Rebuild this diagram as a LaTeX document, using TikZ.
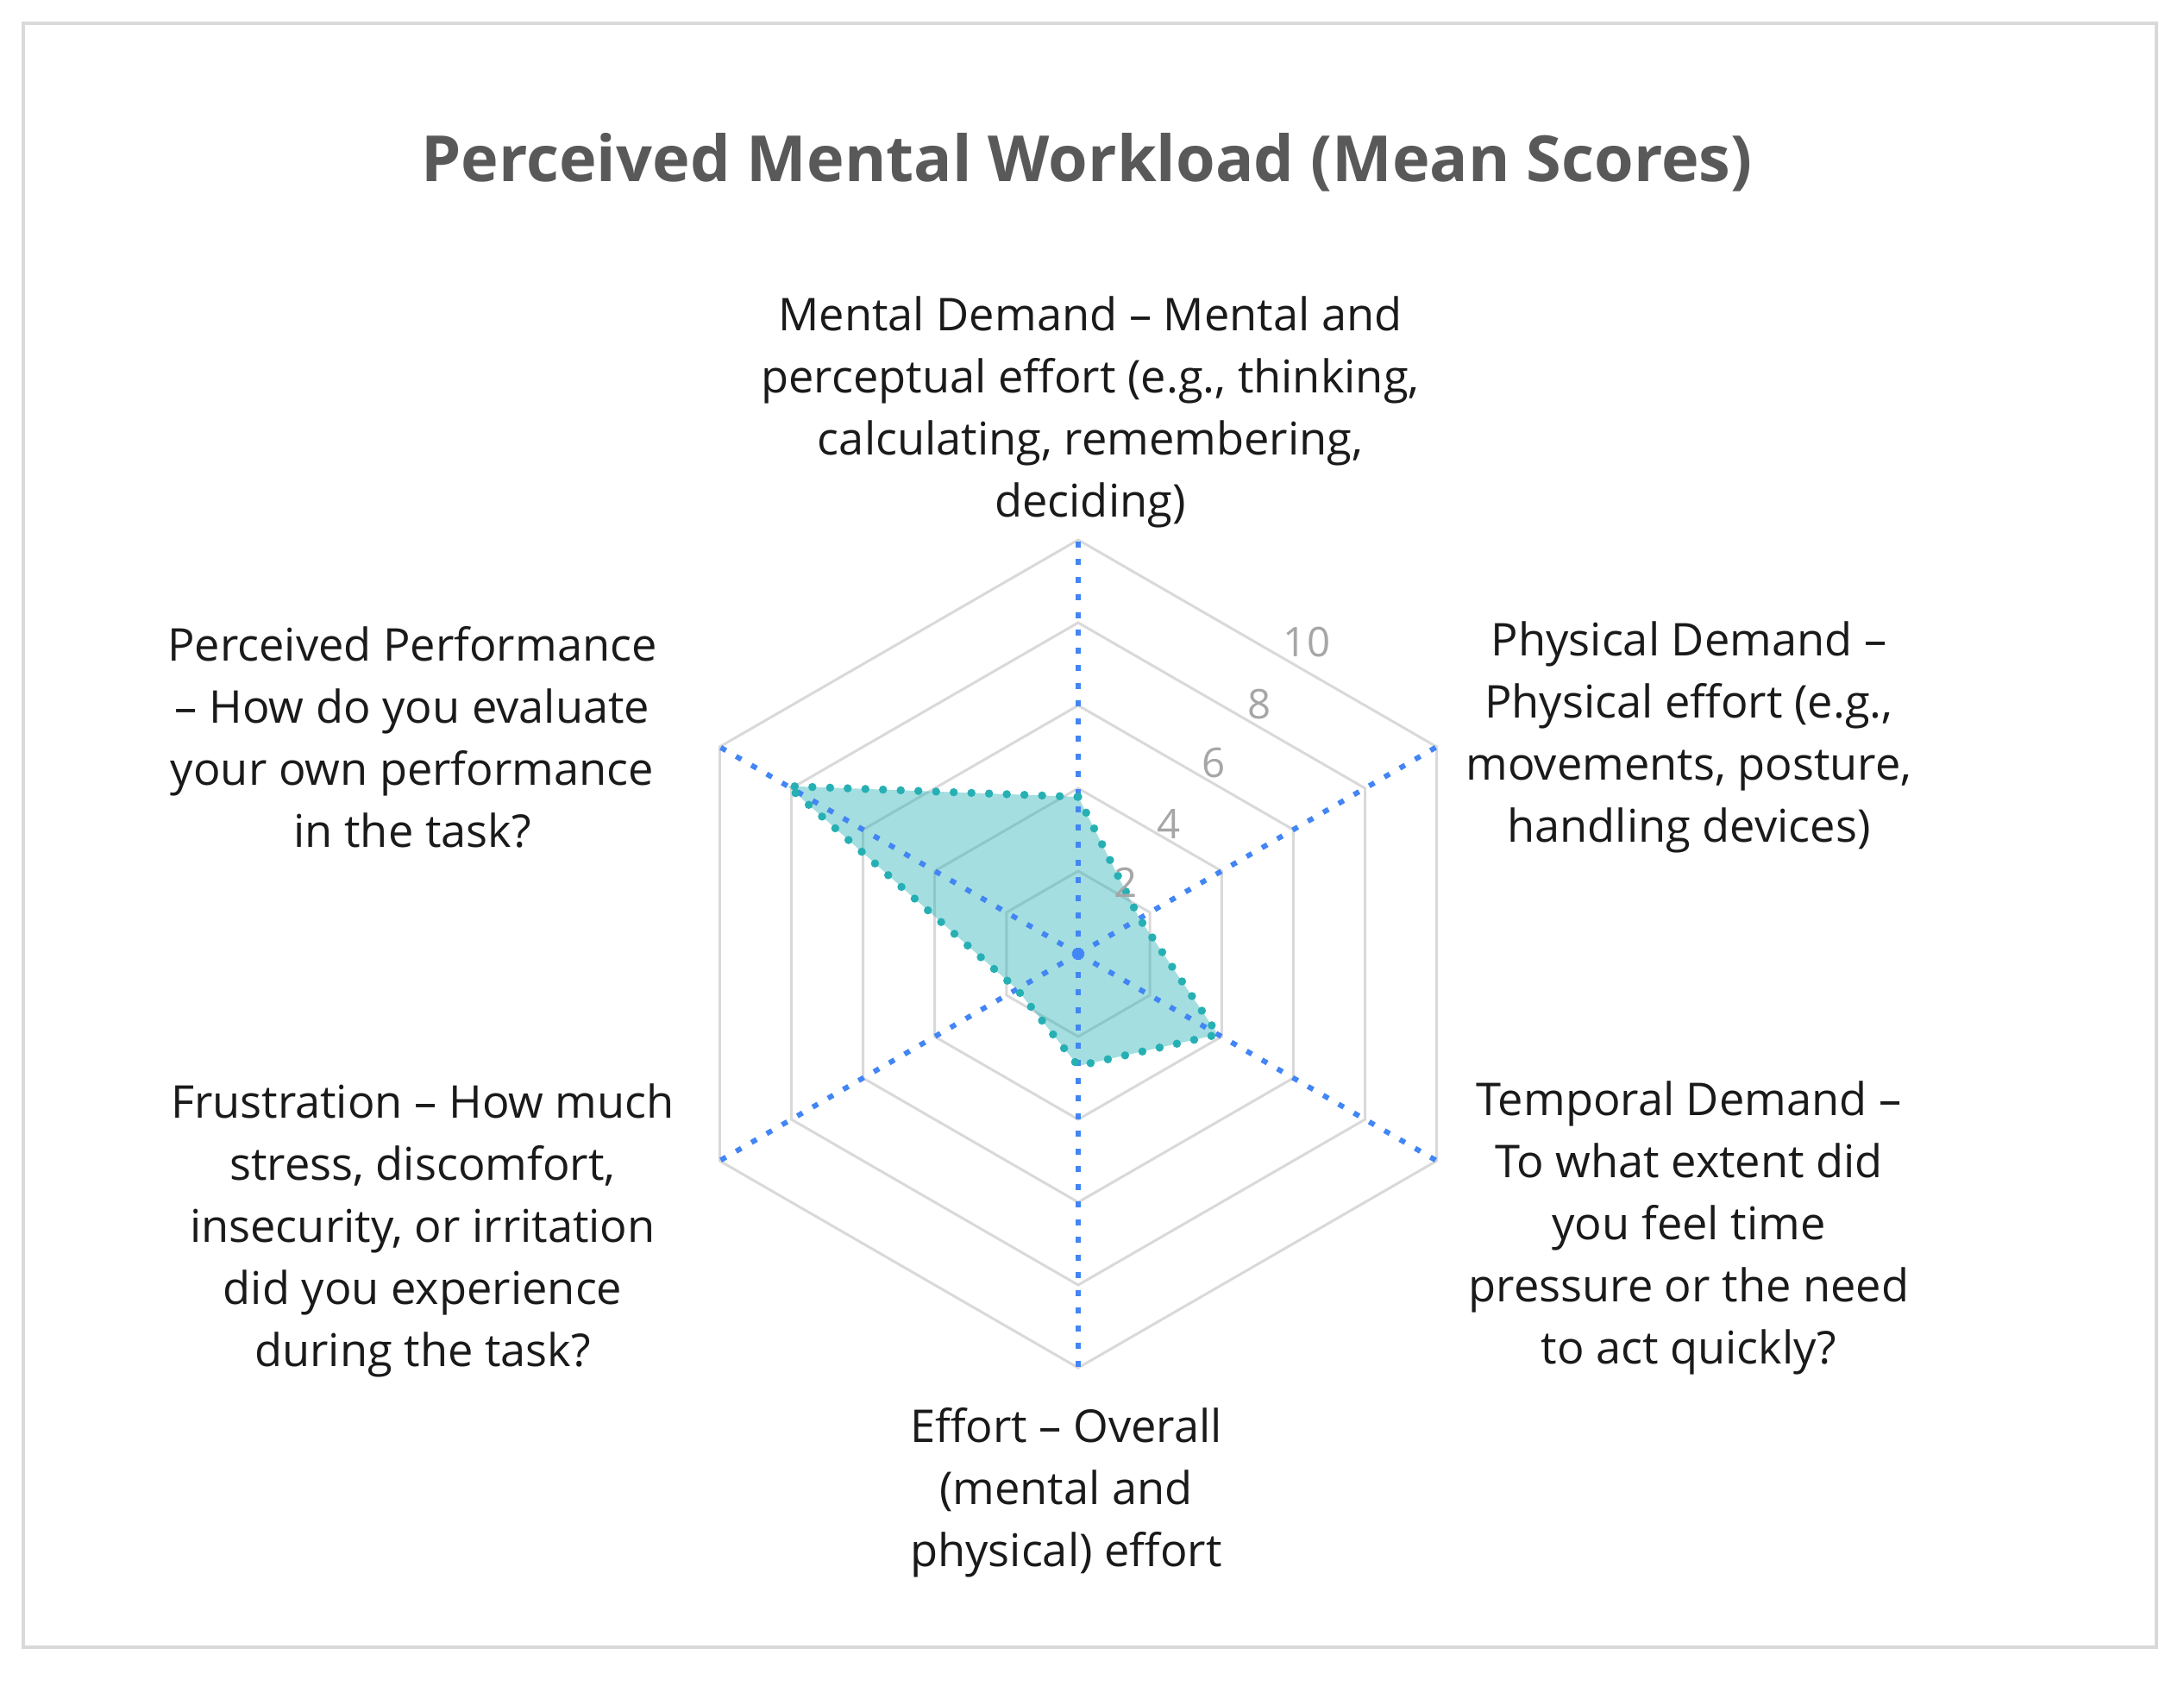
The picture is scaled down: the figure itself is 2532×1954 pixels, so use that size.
\documentclass[tikz,border=0pt]{standalone}
\usepackage{xcolor}
\usepackage{fontspec}
\setmainfont{Open Sans}
\usepackage{tikz}
\usetikzlibrary{calc}
\definecolor{ringgray}{RGB}{217,217,217}
\definecolor{spokeblue}{RGB}{66,133,244}
\definecolor{scoreteal}{RGB}{38,176,180}
\definecolor{labgray}{RGB}{166,166,166}
\definecolor{titlegray}{RGB}{89,89,89}
\definecolor{textdark}{RGB}{26,26,26}
\tikzstyle{ring} = [draw=ringgray, line width=0.3mm, line join=miter]
\tikzstyle{spoke} = [draw=spokeblue, line width=0.6mm, dash pattern=on 0.7mm off 1.35mm]
\tikzstyle{scoreline} = [draw=scoreteal, line width=0.95mm, line cap=round, dash pattern=on 0pt off 2.05mm]
\tikzstyle{ticklab} = [draw=none, text=labgray, font=\fontsize{13.5}{16}\selectfont]
\tikzstyle{catlab} = [draw=none, text=textdark, align=center, font=\fontsize{14.9}{20.5}\selectfont]

\begin{document}
\begin{tikzpicture}[x=0.1mm, y=0.1mm]
\useasboundingbox (-1250,-848) rectangle (1282,1106);
\draw [draw=ringgray, line width=0.4mm] (-1223,1079) rectangle (1250,-804);
% rings 2 .. 10
\draw [ring] (90:96) -- (30:96) -- (-30:96) -- (-90:96) -- (-150:96) -- (150:96) -- cycle;
\draw [ring] (90:192) -- (30:192) -- (-30:192) -- (-90:192) -- (-150:192) -- (150:192) -- cycle;
\draw [ring] (90:288) -- (30:288) -- (-30:288) -- (-90:288) -- (-150:288) -- (150:288) -- cycle;
\draw [ring] (90:384) -- (30:384) -- (-30:384) -- (-90:384) -- (-150:384) -- (150:384) -- cycle;
\draw [ring] (90:480) -- (30:480) -- (-30:480) -- (-90:480) -- (-150:480) -- (150:480) -- cycle;
% axis ends
\coordinate (O) at (0,0);
\coordinate (MD) at (90:480);
\coordinate (PD) at (30:480);
\coordinate (TD) at (-30:480);
\coordinate (EF) at (-90:480);
\coordinate (FR) at (-150:480);
\coordinate (PP) at (150:480);
% mean scores
\coordinate (sMD) at (90:182);
\coordinate (sPD) at (30:82);
\coordinate (sTD) at (-30:187);
\coordinate (sEF) at (-90:130);
\coordinate (sFR) at (-150:82);
\coordinate (sPP) at (150:389);
\fill [scoreteal, fill opacity=0.42] (sMD) -- (sPD) -- (sTD) -- (sEF) -- (sFR) -- (sPP) -- cycle;
\draw [spoke] (O) -- (MD);
\draw [spoke] (O) -- (PD);
\draw [spoke] (O) -- (TD);
\draw [spoke] (O) -- (EF);
\draw [spoke] (O) -- (FR);
\draw [spoke] (O) -- (PP);
\draw [scoreline] (sMD) -- (sPD) -- (sTD) -- (sEF) -- (sFR) -- (sPP) -- cycle;
% scale
\node [ticklab] (t2) at (55,83) {2};
\node [ticklab] (t4) at (105,151) {4};
\node [ticklab] (t6) at (157,221) {6};
\node [ticklab] (t8) at (210,289) {8};
\node [ticklab] (t10) at (265,361) {10};
% texts
\node [draw=none, text=titlegray, font=\fontsize{21}{25}\selectfont\bfseries] (title) at (10,918) {Perceived Mental Workload (Mean Scores)};
\node [catlab] (lMD) at (14,628) {Mental Demand – Mental and\\perceptual effort (e.g., thinking,\\calculating, remembering,\\deciding)};
\node [catlab] (lPD) at (708,251) {Physical Demand –\\Physical effort (e.g.,\\movements, posture,\\handling devices)};
\node [catlab] (lTD) at (708,-318) {Temporal Demand –\\To what extent did\\you feel time\\pressure or the need\\to act quickly?};
\node [catlab] (lEF) at (-14,-625) {Effort – Overall\\(mental and\\physical) effort};
\node [catlab] (lFR) at (-760,-321) {Frustration – How much\\stress, discomfort,\\insecurity, or irritation\\did you experience\\during the task?};
\node [catlab] (lPP) at (-772,251) {Perceived Performance\\– How do you evaluate\\your own performance\\in the task?};
\end{tikzpicture}
\end{document}
